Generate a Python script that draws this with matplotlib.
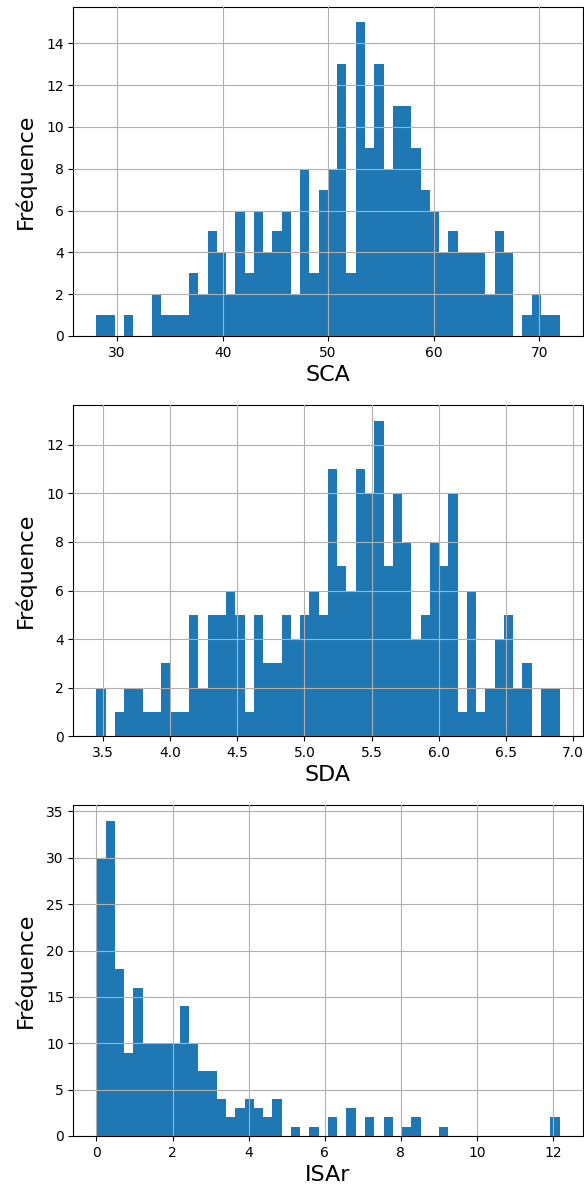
import numpy as np
from matplotlib import pyplot as plt

##############
# data : bin counts (50 bins each)
##############

sca_min, sca_max = 28.04, 71.92
sca_counts = [1, 1, 0, 1, 0, 0, 2, 1, 1, 1,
              3, 2, 5, 4, 2, 6, 3, 6, 4, 5,
              6, 2, 8, 3, 7, 8, 13, 3, 15, 9,
              13, 8, 11, 11, 9, 7, 6, 4, 5, 4,
              4, 4, 2, 5, 4, 0, 1, 2, 1, 1]

sda_min, sda_max = 3.45, 6.90
sda_counts = [2, 0, 1, 2, 2, 1, 1, 3, 1, 1,
              5, 2, 5, 5, 6, 5, 1, 5, 3, 3,
              5, 4, 5, 6, 5, 11, 7, 6, 11, 10,
              13, 7, 10, 8, 4, 5, 8, 7, 10, 1,
              6, 1, 2, 4, 5, 2, 3, 0, 2, 2]

isar_min, isar_max = 0.0, 12.17
isar_counts = [30, 34, 18, 9, 16, 10, 10, 10, 10, 14,
               10, 7, 7, 4, 2, 3, 4, 3, 2, 4,
               0, 1, 0, 1, 0, 2, 0, 3, 0, 2,
               0, 2, 0, 1, 2, 0, 0, 1, 0, 0,
               0, 0, 0, 0, 0, 0, 0, 0, 0, 2]

labels = ['SCA', 'SDA', 'ISAr']


fig = plt.figure(figsize=(5.84, 11.91), dpi=100)

# axes boxes (left, bottom, width, height)
boxes = [[0.1255, 0.7179, 0.8722, 0.2765],
         [0.1255, 0.3820, 0.8722, 0.2780],
         [0.1255, 0.0462, 0.8722, 0.2779]]

series = [(sca_min, sca_max, sca_counts),
          (sda_min, sda_max, sda_counts),
          (isar_min, isar_max, isar_counts)]

for box, (lo, hi, counts), label in zip(boxes, series, labels):
    ax = fig.add_axes(box)
    edges = np.linspace(lo, hi, len(counts) + 1)
    ax.hist(edges[:-1], bins=edges, weights=counts, color='#1f77b4')
    ax.grid(True, color='#b0b0b0', linewidth=0.8)
    ax.set_axisbelow(False)   # grid drawn over the bars
    ax.set_xlabel(label, fontsize=16)
    ax.set_ylabel('Fréquence', fontsize=16, labelpad=7)
    ax.tick_params(labelsize=10)

fig.savefig('out.png', dpi=100)
